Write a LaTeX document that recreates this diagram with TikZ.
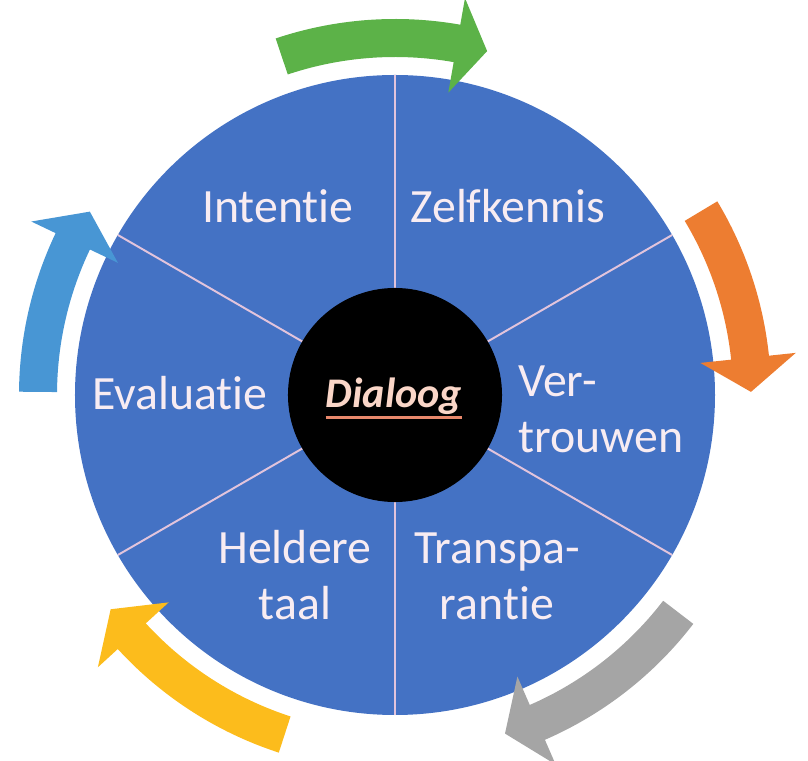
\documentclass[tikz,border=0pt]{standalone}
\usepackage{fontspec}
\setmainfont[Ligatures=NoCommon]{Carlito}
\usepackage{xcolor}
\usepackage{tikz}
\usetikzlibrary{positioning}
\definecolor{wheelblue}{RGB}{68,114,196}
\definecolor{spokepink}{RGB}{226,196,220}
\definecolor{labelwhite}{RGB}{248,236,242}
\definecolor{hubtext}{RGB}{250,214,200}
\definecolor{hubline}{RGB}{232,136,108}
\definecolor{arrowgreen}{RGB}{92,178,72}
\definecolor{arroworange}{RGB}{237,125,49}
\definecolor{arrowgray}{RGB}{165,165,165}
\definecolor{arrowyellow}{RGB}{252,188,28}
\definecolor{arrowblue}{RGB}{72,150,212}

\begin{document}
\begin{tikzpicture}[x=0.025cm, y=0.025cm,
  sector/.style={text=labelwhite, font=\fontsize{34}{40}\selectfont, inner sep=0pt}]
  \useasboundingbox (-395,-366) rectangle (413,395);
  \fill[wheelblue] (0,0) circle (320);
  \foreach \a in {90,30,-30,-90,-150,150} \draw[spokepink, line width=1.4pt] (0,0) -- (\a:320);
  \node[circle, fill=black, minimum size=5.35cm, inner sep=0pt] (hub) at (0,0) {};
  \node[anchor=base, inner sep=0pt, text=hubtext, font=\fontsize{30}{36}\selectfont\bfseries\itshape]
    (dialoog) at (-1,-13) {Dialoog};
  \draw[hubline, line width=1.6pt] ([yshift=-1.5pt]dialoog.south west) -- ([yshift=-1.5pt]dialoog.south east);
  \node[sector, anchor=base] (intentie) at (-117,172) {Intentie};
  \node[sector, anchor=base] (zelfkennis) at (113,172) {Zelfkennis};
  \node[sector, anchor=base] (evaluatie) at (-215,-15) {Evaluatie};
  \node[sector, align=left, anchor=base west] (vertrouwen) at (123,-58) {Ver-\\trouwen};
  \node[sector, align=center, anchor=base] (transparantie) at (102,-225) {Transpa-\\rantie};
  \node[sector, align=center, anchor=base] (heldere) at (-100,-225) {Heldere\\taal};
  \foreach \c/\s/\b/\t in {arrowgreen/108.5/80/75, arroworange/31/6/0.5, arrowgray/-37.5/-66.5/-72,
    arrowyellow/-108/-137.5/-143, arrowblue/179.5/154.5/149}
    \fill[\c] (\s:338) -- (\s:376) arc[start angle=\s, end angle=\b, radius=376] -- (\b:403)
      -- (\t:356) -- (\b:307) -- (\b:338) arc[start angle=\b, end angle=\s, radius=338] -- cycle;
\end{tikzpicture}
\end{document}
